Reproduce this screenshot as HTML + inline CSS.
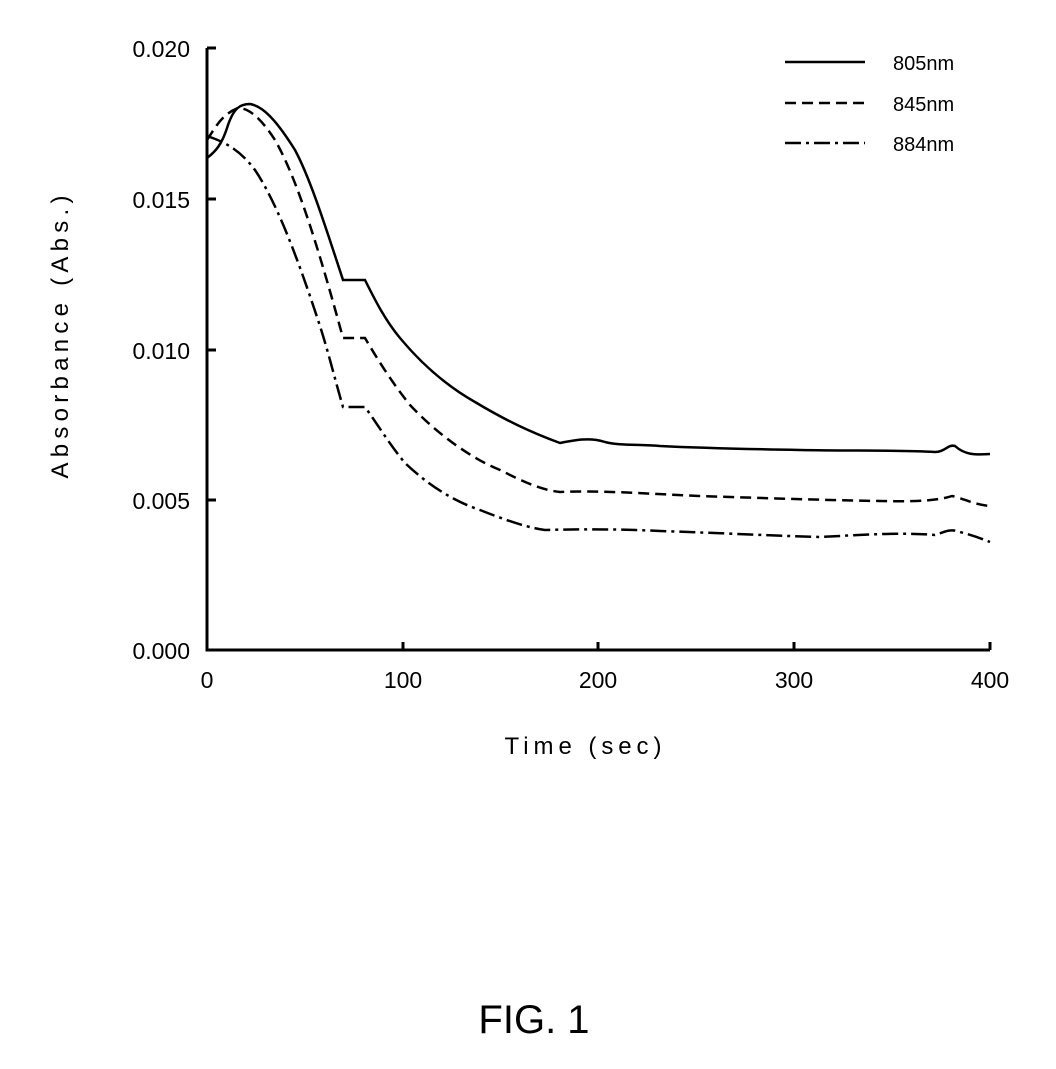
<!DOCTYPE html>
<html><head><style>body{margin:0;background:#fff}svg{display:block}</style></head><body>
<svg width="1056" height="1069" xmlns="http://www.w3.org/2000/svg" font-family="Liberation Sans, sans-serif">
<g stroke="#000" stroke-width="3" fill="none">
<path d="M207 48V650H990"/>
<path d="M207 48h9M207 199h9M207 350h9M207 500h9M403 650v-8M598 650v-8M794 650v-8M990 650v-8"/>
</g>
<g stroke="#000" stroke-width="2.5" fill="none">
<path d="M207 158 C215 152 222 145 228 125 C234 108 240 104 250 104 C262 106 275 118 295 150 C310 178 325 225 343 280 H365 C375 300 385 320 400 338 C420 362 445 385 475 402 C505 420 530 432 560 443 C575 440 590 437 605 442 C620 446 640 444 660 446 C700 448 740 449 800 450 C850 451 900 450 935 452 C945 452 948 444 955 446 C965 455 975 455 990 454"/>
<path stroke-dasharray="11 6" d="M207 140 C215 128 222 114 238 108 C250 108 262 120 275 140 C295 175 315 235 343 338 H365 C375 355 390 380 410 405 C435 432 470 458 500 470 C520 480 540 490 560 492 C600 490 650 494 700 496 C760 498 820 500 880 501 C920 502 940 500 952 496 C962 498 975 505 990 506"/>
<path stroke-dasharray="16 5 3 5" d="M207 136 C225 142 240 150 255 170 C275 200 295 250 318 320 C328 350 335 380 343 407 H365 C378 425 390 445 405 463 C425 482 450 500 480 510 C510 522 530 528 545 530 C580 529 620 529 660 531 C720 533 780 536 820 537 C860 535 900 532 935 535 C945 532 950 528 960 532 C975 536 985 540 990 542"/>
<path d="M785 62H865"/>
<path stroke-dasharray="11 6" d="M785 103H865"/>
<path stroke-dasharray="16 5 3 5" d="M785 143H865"/>
</g>
<g font-size="20" fill="#000">
<text x="893" y="70">805nm</text>
<text x="893" y="111">845nm</text>
<text x="893" y="151">884nm</text>
</g>
<g font-size="23" fill="#000" text-anchor="end">
<text x="190" y="57">0.020</text>
<text x="190" y="208">0.015</text>
<text x="190" y="359">0.010</text>
<text x="190" y="509">0.005</text>
<text x="190" y="659">0.000</text>
</g>
<g font-size="23" fill="#000" text-anchor="middle">
<text x="207" y="688">0</text>
<text x="403" y="688">100</text>
<text x="598" y="688">200</text>
<text x="794" y="688">300</text>
<text x="990" y="688">400</text>
<text x="583" y="754" font-size="24" textLength="157" lengthAdjust="spacing">Time (sec)</text>
<text x="0" y="0" font-size="24" textLength="283" lengthAdjust="spacing" transform="translate(68,337) rotate(-90)">Absorbance (Abs.)</text>
<text x="534" y="1033" font-size="40">FIG. 1</text>
</g>
</svg>
</body></html>
